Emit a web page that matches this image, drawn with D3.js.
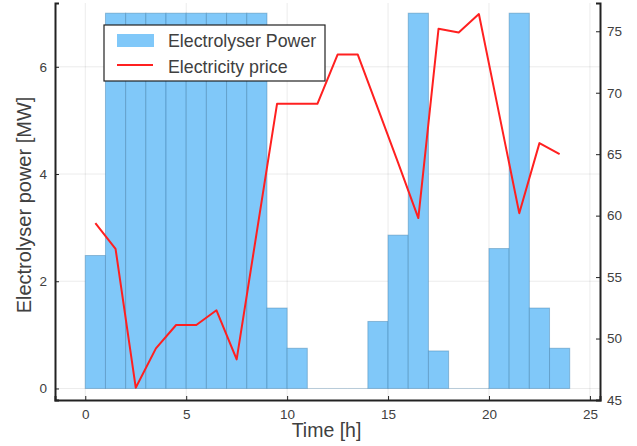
<!DOCTYPE html>
<html>
<head>
<meta charset="utf-8">
<script src="https://cdn.jsdelivr.net/npm/d3@7"></script>
<style>
  body { margin: 0; background: #fff; }
  text { font-family: "Liberation Sans", Arial, sans-serif; fill: #404040; }
</style>
</head>
<body>
<script>
// hourly electrolyser power [MW], bars start at the hour
var hours = d3.range(0, 24);
var power = [2.48, 7, 7, 7, 7, 7, 7, 7, 7, 1.5, 0.75, 0, 0, 0, 1.25, 2.86, 7, 0.7, 0, 0, 2.61, 7, 1.5, 0.75];
// electricity price, plotted at half hours
var priceTimes = d3.range(0.5, 24, 1);
var price = [59.4, 57.3, 46.0, 49.2, 51.1, 51.1, 52.3, 48.3, 58.7, 69.1, 69.1, 69.1,
             73.1, 73.1, 68.7, 64.3, 59.8, 75.2, 74.9, 76.4, 68.3, 60.2, 65.9, 65.0];
var xTicks = [0, 5, 10, 15, 20, 25];
var leftTicks = [0, 2, 4, 6];
var rightTicks = [45, 50, 55, 60, 65, 70, 75];

var width = 637, height = 446;
var margins = {top: 3, bottom: 46, left: 55, right: 37};

var svg = d3.select("body").append("svg")
    .attr("width", width)
    .attr("height", height);

var x = d3.scaleLinear().domain([-1.5, 25.5]).range([margins.left, width - margins.right]);
var yL = d3.scaleLinear().domain([-0.215, 7.19]).range([height - margins.bottom, margins.top]);
var yR = d3.scaleLinear().domain([45, 77.3]).range([height - margins.bottom, margins.top]);

// grid
svg.append("g").selectAll("line").data(xTicks).enter().append("line")
    .attr("x1", function(d){ return x(d); }).attr("x2", function(d){ return x(d); })
    .attr("y1", margins.top).attr("y2", height - margins.bottom)
    .attr("stroke", "#000").attr("stroke-opacity", 0.08);
svg.append("g").selectAll("line").data(leftTicks).enter().append("line")
    .attr("x1", margins.left).attr("x2", width - margins.right)
    .attr("y1", function(d){ return yL(d); }).attr("y2", function(d){ return yL(d); })
    .attr("stroke", "#000").attr("stroke-opacity", 0.08);

// bars
var bars = svg.append("g");
bars.selectAll("rect").data(hours).enter().append("rect")
    .attr("x", function(d){ return x(d); })
    .attr("width", function(d){ return x(d + 1) - x(d); })
    .attr("y", function(d, i){ return yL(power[i]); })
    .attr("height", function(d, i){ return yL(0) - yL(power[i]); })
    .attr("fill", "#80c8f9")
    .attr("stroke", "#3d7fab").attr("stroke-opacity", 0.45).attr("stroke-width", 1);
// zero-height bars still show their outline on the baseline
bars.selectAll("line").data(hours.filter(function(d, i){ return power[i] === 0; })).enter().append("line")
    .attr("x1", function(d){ return x(d); }).attr("x2", function(d){ return x(d + 1); })
    .attr("y1", yL(0)).attr("y2", yL(0))
    .attr("stroke", "#3d7fab").attr("stroke-opacity", 0.3);

// price line
var line = d3.line()
    .x(function(d, i){ return x(priceTimes[i]); })
    .y(function(d){ return yR(d); });
svg.append("path").datum(price)
    .attr("d", line)
    .attr("fill", "none")
    .attr("stroke", "#ff2020")
    .attr("stroke-width", 2)
    .attr("stroke-linejoin", "round");

// axes
var bottomAxis = d3.axisBottom(x).tickValues(xTicks).tickSize(-4).tickPadding(9);
var gx = svg.append("g").attr("transform", "translate(0," + (height - margins.bottom) + ")").call(bottomAxis);
var leftAxis = d3.axisLeft(yL).tickValues(leftTicks).tickSize(-4).tickPadding(8);
var gl = svg.append("g").attr("transform", "translate(" + margins.left + ",0)").call(leftAxis);
var rightAxis = d3.axisRight(yR).tickValues(rightTicks).tickSize(-4).tickPadding(7);
var gr = svg.append("g").attr("transform", "translate(" + (width - margins.right) + ",0)").call(rightAxis);

[gx, gl, gr].forEach(function(g){
    g.select(".domain").attr("stroke", "#222").attr("stroke-width", 2);
    g.selectAll(".tick line").attr("stroke", "#222");
    g.selectAll(".tick text").style("font-size", "13.5px").attr("fill", "#404040");
});

// axis titles
svg.append("text")
    .attr("x", 326.5).attr("y", 437)
    .attr("text-anchor", "middle")
    .style("font-size", "19.5px")
    .text("Time [h]");
svg.append("text")
    .attr("transform", "translate(31," + 205 + ") rotate(-90)")
    .attr("text-anchor", "middle")
    .style("font-size", "20px")
    .text("Electrolyser power [MW]");

// legend
var legend = svg.append("g").attr("transform", "translate(104,25)");
legend.append("rect")
    .attr("width", 221).attr("height", 56)
    .attr("fill", "#fff").attr("stroke", "#222").attr("stroke-width", 1.2);
legend.append("rect")
    .attr("x", 13).attr("y", 9).attr("width", 37).attr("height", 13)
    .attr("fill", "#80c8f9");
legend.append("line")
    .attr("x1", 13).attr("x2", 49).attr("y1", 40).attr("y2", 40)
    .attr("stroke", "#ff2020").attr("stroke-width", 2);
legend.append("text").attr("x", 64).attr("y", 22).style("font-size", "17.8px").text("Electrolyser Power");
legend.append("text").attr("x", 64).attr("y", 48).style("font-size", "17.8px").text("Electricity price");
</script>
</body>
</html>
